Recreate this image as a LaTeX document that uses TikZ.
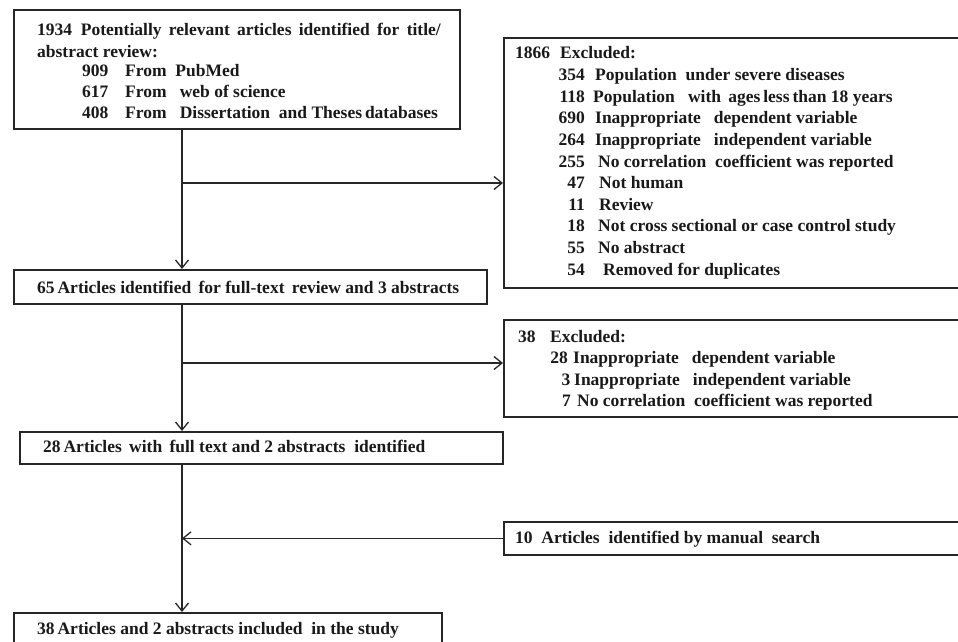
\documentclass[tikz,border=0pt]{standalone}
\usepackage{fontspec}
\setmainfont{Liberation Serif}
\usetikzlibrary{arrows.meta,calc}
\begin{document}
\begin{tikzpicture}[x=1pt,y=-1pt,
  box/.style={draw=black!85,line width=1.7pt,anchor=north west,inner sep=0pt},
  txt/.style={anchor=base west,inner sep=0pt,font=\bfseries\fontsize{17.5}{21}\selectfont,text=black!90},
  num/.style={anchor=base east,inner sep=0pt,font=\bfseries\fontsize{17.5}{21}\selectfont,text=black!90},
  arr/.style={draw=black!85,line width=1.5pt,-{Straight Barb[length=8pt,width=13pt,line width=1.3pt]}}]
\useasboundingbox (0,0) rectangle (958,642);
% boxes
\node[box,minimum width=446pt,minimum height=119pt] (b1) at (13,9) {};
\node[box,minimum width=459pt,minimum height=250pt] (b2) at (503,37) {};
\node[box,minimum width=473pt,minimum height=34pt] (b3) at (13,269) {};
\node[box,minimum width=459pt,minimum height=97pt] (b4) at (503,319) {};
\node[box,minimum width=483pt,minimum height=32pt] (b5) at (19,431) {};
\node[box,minimum width=459pt,minimum height=33pt] (b6) at (503,521) {};
\node[box,minimum width=428pt,minimum height=34pt] (b7) at (13,612) {};
% box 1 text
\node[txt] (b1l1) at (37,36) {1934\ \ Potentially\ \,relevant\ \,articles\ \,identified\ \,for\ \,title/};
\node[txt] (b1l2) at (37,57) {abstract review:};
\node[txt] (b1n3) at (82,76.5) {909};
\node[txt] (b1t3) at (125,76.5) {From\ \ PubMed};
\node[txt] (b1n4) at (82,97) {617};
\node[txt] (b1t4) at (125,97) {From\ \ \ web of science};
\node[txt] (b1n5) at (82,118) {408};
\node[txt] (b1t5) at (125,118) {From\ \ \ Dissertation\ \ and Theses\,databases};
% box 2 text
\node[txt] (b2h) at (515,59) {1866};
\node[txt] (b2h2) at (560,59) {Excluded:};
\node[num] (b2n1) at (585,80.6) {354};
\node[txt] (b2t1) at (595,80.6) {Population\ \ under\ severe\ diseases};
\node[num] (b2n2) at (585,102.2) {118};
\node[txt] (b2t2) at (593,102.2) {Population\ \ \ with\ \,ages\,less\,than 18 years};
\node[num] (b2n3) at (585,123.8) {690};
\node[txt] (b2t3) at (595,123.8) {Inappropriate\ \ \ dependent\ variable};
\node[num] (b2n4) at (585,145.4) {264};
\node[txt] (b2t4) at (595,145.4) {Inappropriate\ \ \ independent\ variable};
\node[num] (b2n5) at (585,167) {255};
\node[txt] (b2t5) at (598,167) {No correlation\ \ coefficient\ was reported};
\node[num] (b2n6) at (585,188.6) {47};
\node[txt] (b2t6) at (599,188.6) {Not human};
\node[num] (b2n7) at (585,210.2) {11};
\node[txt] (b2t7) at (599,210.2) {Review};
\node[num] (b2n8) at (585,231.8) {18};
\node[txt] (b2t8) at (598,231.8) {Not cross sectional or case control\ study};
\node[num] (b2n9) at (585,253.4) {55};
\node[txt] (b2t9) at (598,253.4) {No abstract};
\node[num] (b2n10) at (585,275) {54};
\node[txt] (b2t10) at (603,275) {Removed for duplicates};
% box 3
\node[txt] (b3t) at (37,293) {65\,Articles\ identified\ \,for\ full-text\ \,review\ and\ 3\ abstracts};
% box 4
\node[txt] (b4h) at (518,342) {38};
\node[txt] (b4h2) at (550,342) {Excluded:};
\node[num] (b4n1) at (568,363.5) {28};
\node[txt] (b4t1) at (573,363.5) {Inappropriate\ \ \ dependent\ variable};
\node[num] (b4n2) at (570.5,385) {3};
\node[txt] (b4t2) at (574,385) {Inappropriate\ \ \ independent\ variable};
\node[num] (b4n3) at (571,406.5) {7};
\node[txt] (b4t3) at (577,406.5) {No correlation\ \ coefficient was reported};
% box 5
\node[txt] (b5t) at (43,452) {28\,Articles\ \,with\ \,full text and 2 abstracts\ \ identified};
% box 6
\node[txt] (b6t) at (515,543) {10\ \ Articles\ \ identified\ by manual\ \ search};
% box 7
\node[txt] (b7t) at (37,634) {38\,Articles\ and 2 abstracts included\ \ in the study};
% connectors
\coordinate (trunk) at (182,0);
\coordinate (j1) at (182,183);
\coordinate (j2) at (182,363);
\draw[arr] (b1.south -| trunk) -- (b3.north -| trunk);
\draw[arr] (j1) -- (j1 -| b2.west);
\draw[arr] (b3.south -| trunk) -- (b5.north -| trunk);
\draw[arr] (j2) -- (j2 -| b4.west);
\draw[arr] (b5.south -| trunk) -- (b7.north -| trunk);
\draw[arr] (b6.west) -- (b6.west -| trunk);
\end{tikzpicture}
\end{document}
